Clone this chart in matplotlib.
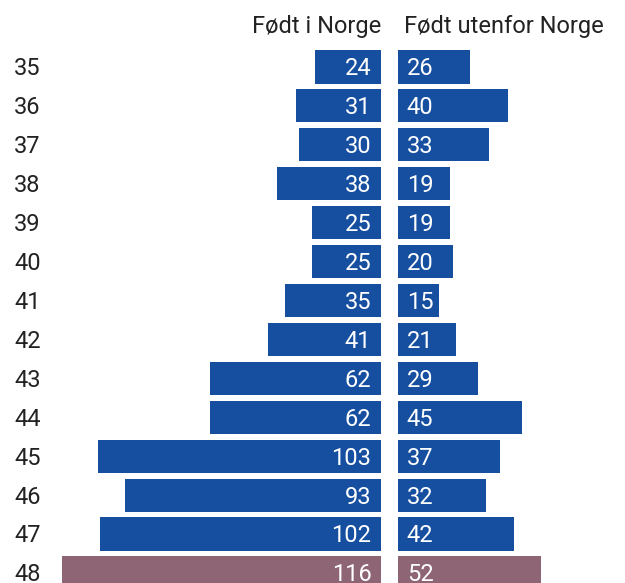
import matplotlib.pyplot as plt
from matplotlib.transforms import blended_transform_factory

ages = [35, 36, 37, 38, 39, 40, 41, 42, 43, 44, 45, 46, 47, 48]
born_norway = [24, 31, 30, 38, 25, 25, 35, 41, 62, 62, 103, 93, 102, 116]
born_abroad = [26, 40, 33, 19, 19, 20, 15, 21, 29, 45, 37, 32, 42, 52]
highlight = 48

blue = "#174fa0"
mauve = "#8e6574"
colors = [mauve if a == highlight else blue for a in ages]

plt.rcParams['font.family'] = ['Roboto', 'DejaVu Sans']
fs = 17

W, H = 625, 583
fig = plt.figure(figsize=(W / 100, H / 100), dpi=100)

# pixel layout
scale = 2.75          # px per unit
left_edge = 381       # zero line of the left panel
right_edge = 398      # zero line of the right panel
top_px = 40
row0_px = 67
row_step = 38.92

ax_l = fig.add_axes([0, 0, left_edge / W, (H - top_px) / H])
ax_r = fig.add_axes([right_edge / W, 0, (W - right_edge) / W, (H - top_px) / H])

y = list(range(len(ages)))
ymax = (H - row0_px) / row_step
ymin = -(row0_px - top_px) / row_step

ax_l.barh(y, born_norway, height=0.85, color=colors)
ax_l.set_xlim(left_edge / scale, 0)
ax_r.barh(y, born_abroad, height=0.85, color=colors)
ax_r.set_xlim(0, (W - right_edge) / scale)

for ax in (ax_l, ax_r):
    ax.set_ylim(ymax, ymin)
    ax.axis("off")

dy = 0.05
for i, v in enumerate(born_norway):
    ax_l.text(3.5, i + dy, str(v), ha="right", va="center", color="white", fontsize=fs)
for i, v in enumerate(born_abroad):
    ax_r.text(3.2, i + dy, str(v), ha="left", va="center", color="white", fontsize=fs)

tr = blended_transform_factory(fig.transFigure, ax_l.transData)
for i, a in enumerate(ages):
    ax_l.text(14 / W, i + dy, str(a), transform=tr, ha="left", va="center",
              color="#222222", fontsize=fs)

fig.text(left_edge / W, 1 - 27 / H, "Født i Norge", ha="right", va="center",
         color="#222222", fontsize=fs)
fig.text(404 / W, 1 - 27 / H, "Født utenfor Norge", ha="left", va="center",
         color="#222222", fontsize=fs)

fig.savefig("out.png", dpi=100)
